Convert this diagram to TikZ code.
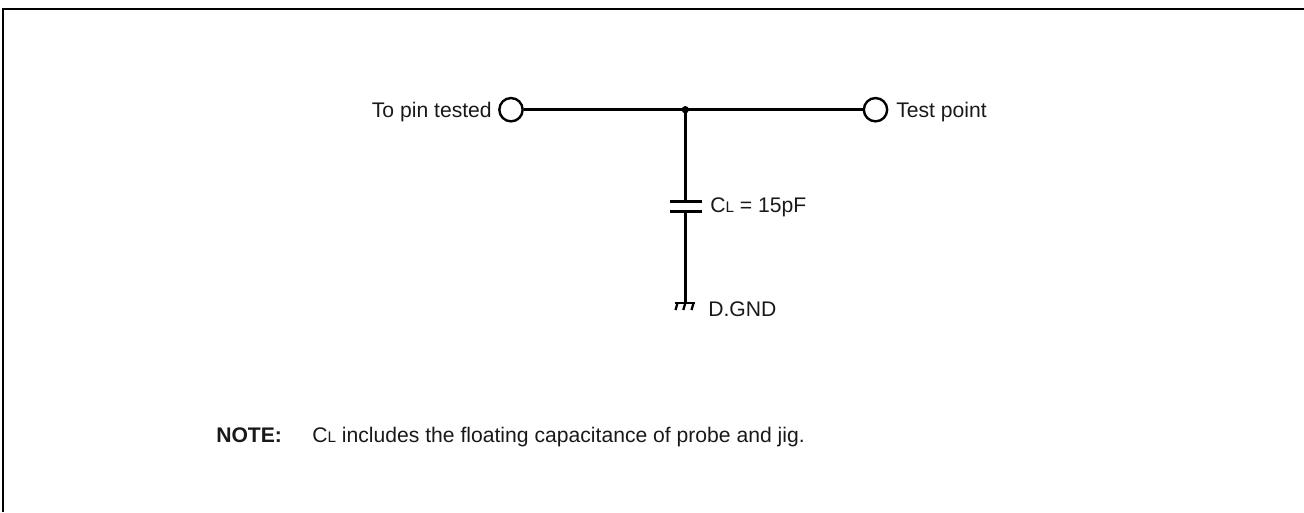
\documentclass[tikz,border=0pt]{standalone}
\usepackage{fontspec}
\setmainfont{Liberation Sans}
\newcommand{\smallL}{{\fontsize{11.5pt}{13pt}\selectfont L}}
\tikzset{
  x=0.75pt,y=-0.75pt,
  wire/.style={line width=2.3pt,black},
  frameline/.style={line width=1.8pt,black},
  term/.style={circle,draw=black,line width=1.8pt,fill=white,minimum size=17.5pt,inner sep=0pt},
  dotnode/.style={circle,fill=black,minimum size=5.5pt,inner sep=0pt},
  lab/.style={font=\fontsize{15.85pt}{19pt}\selectfont,inner sep=0pt,text=black!90},
  plate/.style={line width=2.3pt,black},
  gndline/.style={line width=1.7pt,black}
}
\begin{document}
\begin{tikzpicture}
\useasboundingbox (0,0) rectangle (1304,512);
\coordinate (fa) at (3,512);
\coordinate (fb) at (3,9);
\coordinate (fc) at (1304,9);
\draw[frameline,line cap=butt,line join=miter] (fa) -- (fb) -- (fc);
% terminals and junction
\node[term] (tl) at (511,109.7) {};
\node[term] (tr) at (875.5,109.7) {};
\node[dotnode] (j) at (685.3,109.7) {};
\draw[wire] (tl) -- (j.center);
\draw[wire] (j.center) -- (tr);
% capacitor
\coordinate (p1l) at (670,201.7);
\coordinate (p1r) at (702,201.7);
\coordinate (p1c) at (685.3,201.7);
\coordinate (p2l) at (670,211.3);
\coordinate (p2r) at (702,211.3);
\coordinate (p2c) at (685.3,211.3);
\coordinate (g) at (685.3,303);
\draw[wire] (j.center) -- (p1c);
\draw[wire] (p2c) -- (g);
\draw[plate] (p1l) -- (p1r);
\draw[plate] (p2l) -- (p2r);
% ground
\coordinate (gl) at (675,303);
\coordinate (gr) at (695,303);
\draw[gndline] (gl) -- (gr);
\coordinate (t1a) at (677.5,303); \coordinate (t1b) at (675.5,310);
\coordinate (t2a) at (685.3,303); \coordinate (t2b) at (683.3,310);
\coordinate (t3a) at (693.5,303); \coordinate (t3b) at (691.5,310);
\draw[gndline] (t1a) -- (t1b);
\draw[gndline] (t2a) -- (t2b);
\draw[gndline] (t3a) -- (t3b);
% labels
\node[lab,anchor=base east] (lpin) at (492,117.5) {To pin tested};
\node[lab,anchor=base west] (ltp) at (896,117.5) {Test point};
\node[lab,anchor=base west] (lcl) at (710,212) {C\smallL{} = 15pF};
\node[lab,anchor=base west] (lgnd) at (708,316) {D.GND};
\node[lab,anchor=base west,font=\fontsize{15.85pt}{19pt}\selectfont\bfseries] (lnote) at (216,442.5) {NOTE:};
\node[lab,anchor=base west] (ltext) at (312,442.5) {C\smallL{} includes the floating capacitance of probe and jig.};
\end{tikzpicture}
\end{document}
